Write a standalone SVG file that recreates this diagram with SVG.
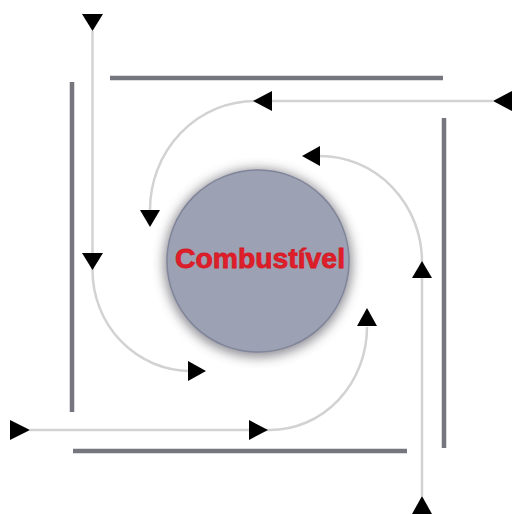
<svg xmlns="http://www.w3.org/2000/svg" width="512" height="514" viewBox="0 0 512 514">
  <defs>
    <filter id="blur" x="-30%" y="-30%" width="160%" height="160%">
      <feGaussianBlur stdDeviation="6"/>
    </filter>
    <filter id="barShadow" x="-50%" y="-50%" width="200%" height="200%">
      <feGaussianBlur stdDeviation="3"/>
    </filter>
    <style>
      .bar { stroke: #76767e; stroke-width: 4.5; stroke-linecap: butt; fill: none; }
      .barsh { stroke: #d8d8e0; stroke-width: 10; fill: none; filter: url(#barShadow); }
      .flow { stroke: #d2d2d4; stroke-width: 2.5; fill: none; }
      .arrow { fill: #000; }
      .label { font-family: "Liberation Sans", Arial, sans-serif; font-weight: bold; font-size: 28px; fill: #e01e2a; stroke: #d01a26; stroke-width: 0.8; text-anchor: middle; }
    </style>
  </defs>
  <rect width="512" height="514" fill="#ffffff"/>

  <g id="bars">
    <line class="barsh" x1="110" y1="80" x2="443" y2="80"/>
    <line class="barsh" x1="74" y1="82" x2="74" y2="412"/>
    <line class="barsh" x1="73" y1="453" x2="407" y2="453"/>
    <line class="barsh" x1="446" y1="118" x2="446" y2="448"/>
    <line class="bar" x1="110" y1="78" x2="443" y2="78"/>
    <line class="bar" x1="72" y1="82" x2="72" y2="412"/>
    <line class="bar" x1="73" y1="451" x2="407" y2="451"/>
    <line class="bar" x1="444" y1="118" x2="444" y2="448"/>
  </g>

  <g id="combustivel">
    <circle cx="258" cy="263" r="94" fill="#3e3e4a" opacity="0.6" filter="url(#blur)"/>
    <circle cx="258" cy="261" r="91" fill="#9ca1b3" stroke="#80859a" stroke-width="1.5"/>
    <text class="label" x="260" y="268" textLength="170" lengthAdjust="spacingAndGlyphs">Combustível</text>
  </g>

  <g id="connectors">
    <path class="flow" d="M92.5,31 V270 A98,101 0 0 0 190,371"/>
    <path class="flow" d="M30,430 H270 A97,103 0 0 0 367,327"/>
    <path class="flow" d="M422,496 V262 A102,106 0 0 0 320,156"/>
    <path class="flow" d="M493,101 H255 A105,109 0 0 0 150,210"/>

    <polygon class="arrow" points="82,14 103,14 92.5,31"/>
    <polygon class="arrow" points="82,253 103,253 92.5,270"/>
    <polygon class="arrow" points="188,361 188,381 206,371"/>
    <polygon class="arrow" points="10,420 10,440 30,430"/>
    <polygon class="arrow" points="249,420 249,440 268,430"/>
    <polygon class="arrow" points="357,326 377,326 367,308"/>
    <polygon class="arrow" points="412,278 432,278 422,261"/>
    <polygon class="arrow" points="412,514 432,514 422,496"/>
    <polygon class="arrow" points="512,91 512,111 493,101"/>
    <polygon class="arrow" points="272,91 272,111 253,101"/>
    <polygon class="arrow" points="320,146 320,166 302,156"/>
    <polygon class="arrow" points="140,210 160,210 150,227"/>
  </g>
</svg>
